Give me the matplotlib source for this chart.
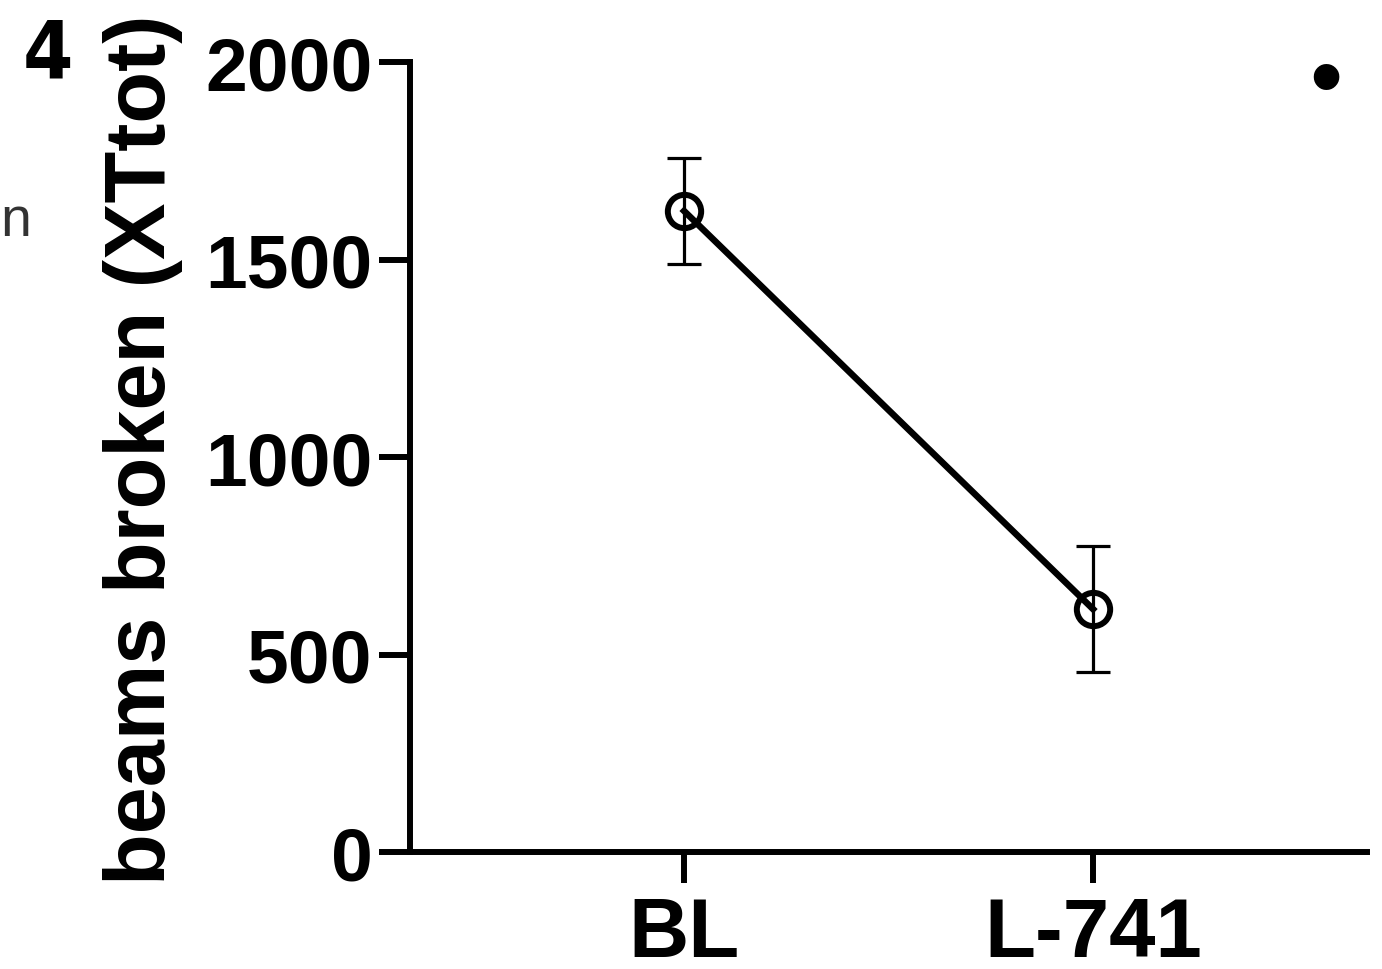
import numpy as np
import matplotlib
matplotlib.use('Agg')
import matplotlib.pyplot as plt

# valores
groups = ['BL', 'L-741']
means = [1623, 615]
sems = [135, 160]
yticks = [0, 500, 1000, 1500, 2000]

plt.rcParams['font.family'] = ['Liberation Sans', 'DejaVu Sans']

fig = plt.figure(figsize=(13.82, 9.70), dpi=100)
ax = fig.add_axes([0.2967, 0.1206, 0.6925, 0.8144])

x = np.arange(len(groups))
ax.errorbar(x, means, yerr=sems, fmt='none', ecolor='black',
            elinewidth=2.3, capsize=12.5, capthick=2.3, zorder=2)
ax.plot(x, means, '-', color='black', linewidth=4.7, zorder=3)
ax.plot(x, means, 'o', markersize=24, markerfacecolor='none',
        markeredgecolor='black', markeredgewidth=4.3, zorder=4)

ax.set_xlim(-0.67, 1.67)
ax.set_ylim(0, 2000)
ax.set_xticks(x)
ax.set_xticklabels(groups, fontsize=60, fontweight='bold')
ax.set_yticks(yticks)
ax.set_yticklabels([str(v) for v in yticks], fontsize=54, fontweight='bold')

for s in ['top', 'right']:
    ax.spines[s].set_visible(False)
for s in ['left', 'bottom']:
    ax.spines[s].set_linewidth(4.3)
ax.tick_params(axis='both', width=4.3, length=22, direction='out')
ax.tick_params(axis='y', pad=5)
ax.tick_params(axis='x', pad=9)

fig.text(143 / 1382, 1 - 450 / 970, 'beams broken (XTtot)', rotation=90,
         ha='center', va='center', fontsize=61, fontweight='bold')

# restos de paneles vecinos
fig.text(48 / 1382, 1 - 57 / 970, '4', ha='center', va='center',
         fontsize=58, fontweight='bold', fontstretch='condensed',
         family=['Liberation Sans Narrow', 'DejaVu Sans'])
fig.text(0.0, 1 - 222 / 970, 'n', ha='left', va='center',
         fontsize=40, color='#333333')
fig.text(1326 / 1382, 1 - 84 / 970, '\u2022', ha='center', va='center',
         fontsize=68, color='black')

fig.savefig('out.png', dpi=100)
